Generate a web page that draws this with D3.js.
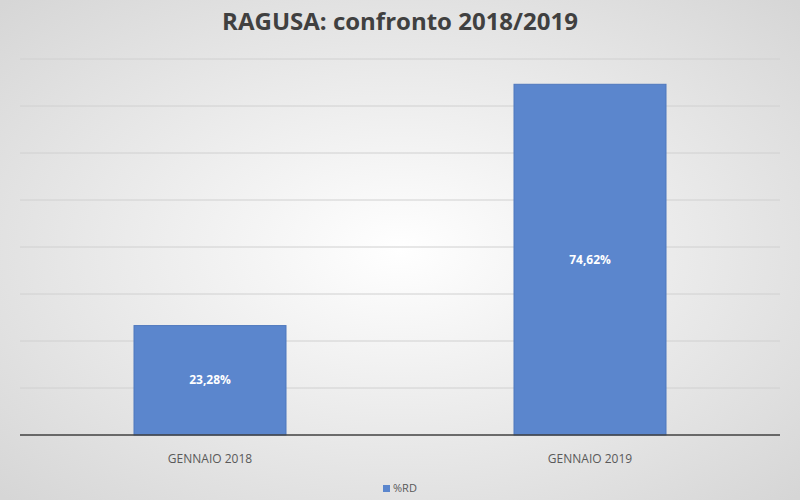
<!DOCTYPE html>
<html><head><meta charset="utf-8">
<script src="https://cdn.jsdelivr.net/npm/d3@7"></script>
<style>body{margin:0}svg{display:block}</style>
</head><body>
<script>
const categories = ["GENNAIO 2018", "GENNAIO 2019"];
const values = [23.28, 74.62];
const valueLabels = ["23,28%", "74,62%"];
const seriesName = "%RD";
const gridTicks = [0,10,20,30,40,50,60,70,80];

const W=800,H=500;
const svg=d3.select("body").append("svg").attr("width",W).attr("height",H);
const defs=svg.append("defs");
const g=defs.append("radialGradient").attr("id","bg").attr("cx","50%").attr("cy","50%").attr("r","70%");
g.append("stop").attr("offset","0%").attr("stop-color","#ffffff");
g.append("stop").attr("offset","100%").attr("stop-color","#d6d6d6");
svg.append("rect").attr("width",W).attr("height",H).attr("fill","url(#bg)");

const x=d3.scaleBand().domain(categories).range([20,780]).paddingInner(0.6).paddingOuter(0.3);
const y=d3.scaleLinear().domain([0,80]).range([435,59]);

svg.selectAll(".grid").data(gridTicks.slice(1)).join("line")
 .attr("x1",20).attr("x2",780).attr("y1",d=>y(d)).attr("y2",d=>y(d))
 .attr("stroke","#d0d0d0").attr("stroke-width",1);

svg.selectAll(".bar").data(values).join("rect")
 .attr("x",(d,i)=>x(categories[i])).attr("width",x.bandwidth())
 .attr("y",d=>y(d)).attr("height",d=>y(0)-y(d))
 .attr("fill","#5b86cd").attr("stroke","#4f78bd").attr("stroke-width",1);

svg.selectAll(".vl").data(values).join("text")
 .attr("x",(d,i)=>x(categories[i])+x.bandwidth()/2).attr("y",d=>(y(d)+y(0))/2+4)
 .attr("text-anchor","middle").attr("fill","#fff").attr("font-family","Open Sans, sans-serif")
 .attr("font-weight","bold").attr("font-size",12).text((d,i)=>valueLabels[i]);

svg.append("line").attr("x1",20).attr("x2",780).attr("y1",y(0)).attr("y2",y(0)).attr("stroke","#404040").attr("stroke-width",1.5);

svg.selectAll(".cat").data(categories).join("text")
 .attr("x",d=>x(d)+x.bandwidth()/2).attr("y",463).attr("text-anchor","middle")
 .attr("fill","#595959").attr("font-family","Open Sans, sans-serif").attr("font-size",12).text(d=>d);

svg.append("text").attr("x",400).attr("y",30).attr("text-anchor","middle")
 .attr("font-family","Open Sans, sans-serif").attr("font-weight","bold").attr("font-size",24)
 .attr("fill","#404040").text("RAGUSA: confronto 2018/2019");

svg.append("rect").attr("x",383).attr("y",485).attr("width",7).attr("height",7).attr("fill","#5b86cd");
svg.append("text").attr("x",393).attr("y",492).attr("font-family","Open Sans, sans-serif")
 .attr("font-size",11).attr("fill","#595959").text(seriesName);
</script>
</body></html>
